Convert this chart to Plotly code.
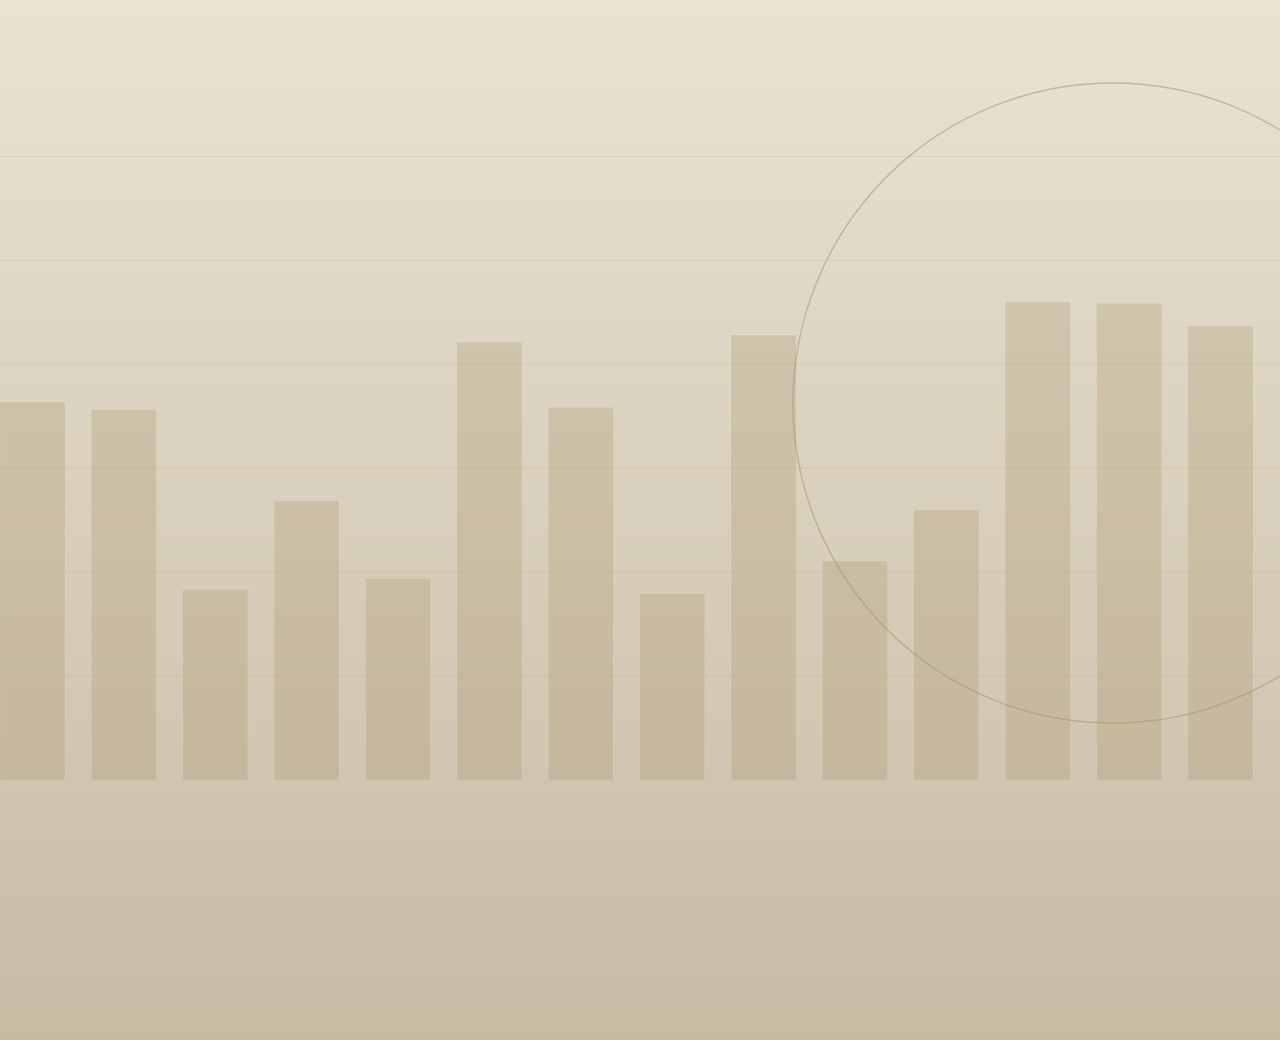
import plotly.graph_objects as go

categories = list(range(14))
values = [72.7, 71.2, 36.7, 53.7, 38.8, 84.2, 71.7, 35.8, 85.6, 42.1, 51.9, 91.9, 91.7, 87.3]
grid_vals = [20, 40, 60, 80, 100, 120]

W, H = 1280, 1040
TOP, BOT = 150, 260
PLOT_H = H - TOP - BOT
Y_MAX = 120 * PLOT_H / 624.0  # 120 sits at pixel 156

fig = go.Figure()
fig.add_trace(go.Bar(
    x=categories, y=values,
    marker=dict(color="rgba(172,152,114,0.30)",
                line=dict(color="rgba(240,232,214,0.25)", width=1)),
    hoverinfo="skip",
))

# vertical background gradient as thin strips (paper coords)
top_c = (233, 227, 212)
bot_c = (199, 187, 164)
n = 260
shapes = []
for i in range(n):
    t = (i + 0.5) / n
    c = tuple(round(top_c[k] + (bot_c[k] - top_c[k]) * t) for k in range(3))
    py0 = H * i / n
    py1 = H * (i + 1) / n + 0.6
    shapes.append(dict(
        type="rect", xref="paper", yref="paper", layer="below",
        x0=-0.01, x1=1.01,
        y0=(H - BOT - py1) / PLOT_H, y1=(H - BOT - py0) / PLOT_H,
        fillcolor="rgb(%d,%d,%d)" % c, line=dict(width=0),
    ))

# decorative circle
cx, cy, r = 1113, 403, 320
shapes.append(dict(
    type="circle", xref="paper", yref="paper", layer="above",
    x0=(cx - r) / W, x1=(cx + r) / W,
    y0=(H - BOT - (cy + r)) / PLOT_H, y1=(H - BOT - (cy - r)) / PLOT_H,
    line=dict(color="rgba(168,148,110,0.55)", width=1.4),
    fillcolor="rgba(0,0,0,0)",
))

step = (1220.5 - 32.5) / 13
x0 = -32.5 / step
x1 = x0 + W / step

fig.update_layout(
    width=W, height=H,
    margin=dict(l=0, r=0, t=TOP, b=BOT, pad=0),
    paper_bgcolor="rgb(222,214,196)",
    plot_bgcolor="rgba(0,0,0,0)",
    showlegend=False,
    bargap=26 / step,
    shapes=shapes,
    xaxis=dict(range=[x0, x1], showgrid=False, zeroline=False,
               showticklabels=False, showline=False, ticks=""),
    yaxis=dict(range=[0, Y_MAX], tickmode="array", tickvals=grid_vals,
               showgrid=True, gridcolor="rgba(190,170,130,0.25)", gridwidth=1,
               zeroline=False, showticklabels=False, showline=False, ticks=""),
)

fig.write_html("out.html", config={"displayModeBar": False},
               post_script="document.body.style.margin='0';document.body.style.overflow='hidden';")
